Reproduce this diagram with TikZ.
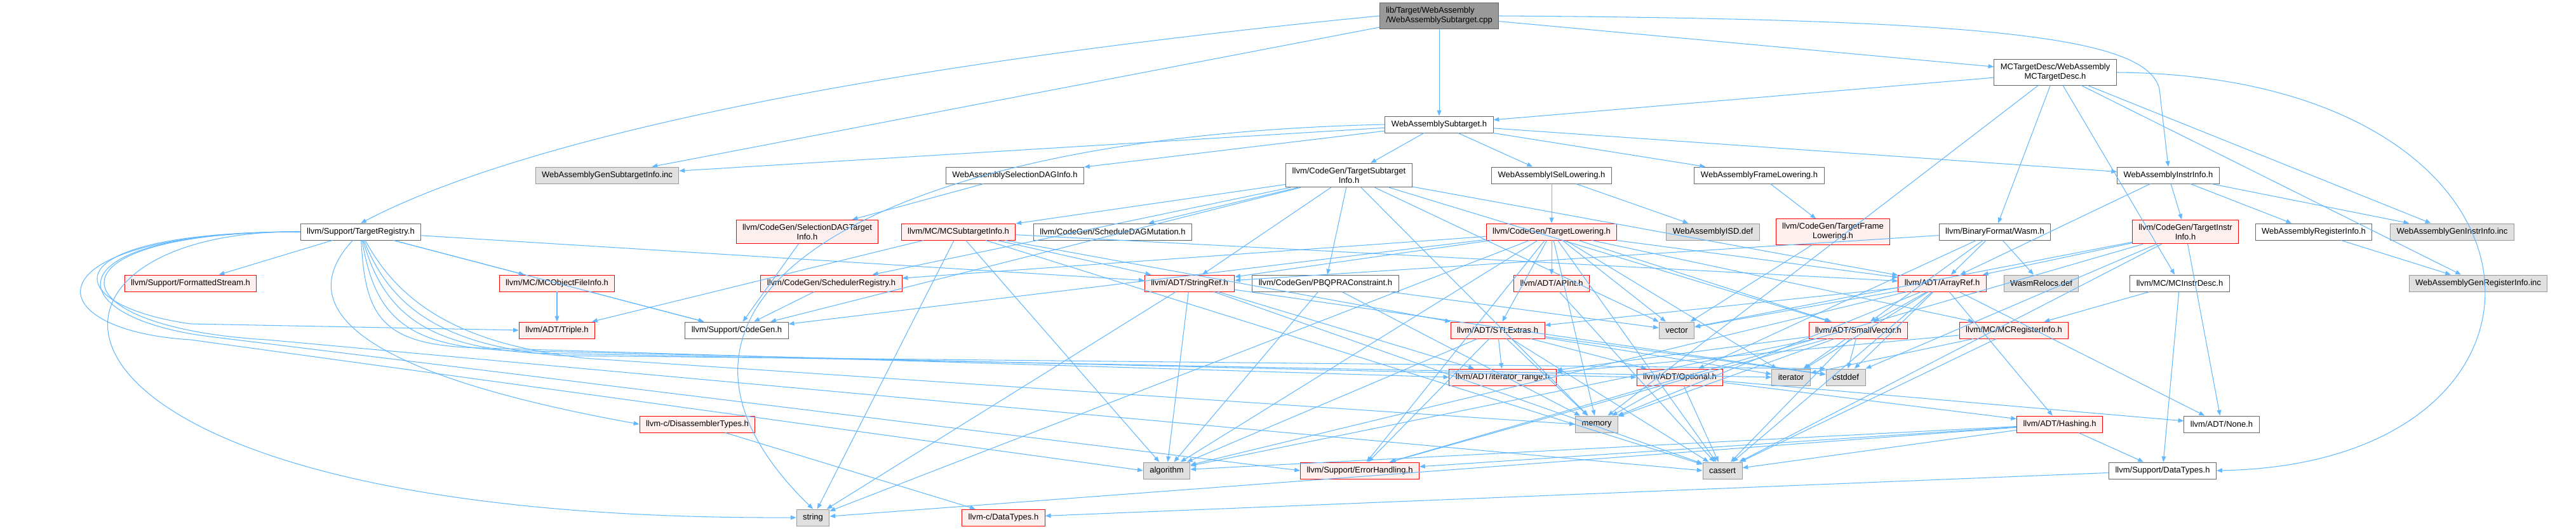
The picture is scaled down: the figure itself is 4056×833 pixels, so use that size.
\documentclass[tikz,border=0pt]{standalone}
\usepackage{fontspec}
\setmainfont{Liberation Sans}
\usetikzlibrary{arrows.meta}
\definecolor{edgeblue}{HTML}{63B8FF}
\definecolor{redfill}{HTML}{FFF0F0}

\begin{document}
\begin{tikzpicture}[x=0.025cm, y=-0.025cm,
		% Define styles for the nodes
		filebox/.style={
			rectangle, draw=black!60, fill=white, line width=0.7pt,
			inner xsep=0.25cm, inner ysep=0.16cm, minimum height=0.65cm,
			align=center, font=\fontsize{9.25}{10.8}\selectfont
		},
		redbox/.style={filebox, draw=red, fill=redfill},
		sysbox/.style={filebox, draw=black!40, fill=black!12},
		rootbox/.style={filebox, fill=black!40, align=left},
		edge/.style={
			-{Triangle[length=0.22cm, width=0.17cm]}, draw=edgeblue, line width=0.75pt
		}
		]
		\useasboundingbox (0,0) rectangle (4056,833);
		
		% Define the top nodes
		\node[rootbox] (cpp) at (2266,25) {lib/Target/WebAssembly\\/WebAssemblySubtarget.cpp};
		\node[filebox] (mctd) at (3236,114) {MCTargetDesc/WebAssembly\\MCTargetDesc.h};
		\node[filebox] (sub) at (2266,196) {WebAssemblySubtarget.h};
		
		\node[sysbox] (gsi) at (956,276) {WebAssemblyGenSubtargetInfo.inc};
		\node[filebox] (sdi) at (1598,276) {WebAssemblySelectionDAGInfo.h};
		\node[filebox] (tsi) at (2124,276) {llvm/CodeGen/TargetSubtarget\\Info.h};
		\node[filebox] (isel) at (2443,276) {WebAssemblyISelLowering.h};
		\node[filebox] (frl) at (2770,276) {WebAssemblyFrameLowering.h};
		\node[filebox] (iinfo) at (3414,276) {WebAssemblyInstrInfo.h};
		
		\node[filebox] (treg) at (568,365) {llvm/Support/TargetRegistry.h};
		\node[redbox] (sdti) at (1271,365) {llvm/CodeGen/SelectionDAGTarget\\Info.h};
		\node[redbox] (mcsti) at (1509,365) {llvm/MC/MCSubtargetInfo.h};
		\node[filebox] (sdm) at (1752,365) {llvm/CodeGen/ScheduleDAGMutation.h};
		\node[redbox] (tlow) at (2443,365) {llvm/CodeGen/TargetLowering.h};
		\node[sysbox] (isd) at (2697,365) {WebAssemblyISD.def};
		\node[redbox] (tfl) at (2886,365) {llvm/CodeGen/TargetFrame\\Lowering.h};
		\node[filebox] (wasm) at (3141,365) {llvm/BinaryFormat/Wasm.h};
		\node[redbox] (tii) at (3441,365) {llvm/CodeGen/TargetInstr\\Info.h};
		\node[filebox] (rinfo) at (3643,365) {WebAssemblyRegisterInfo.h};
		\node[sysbox] (gii) at (3861,365) {WebAssemblyGenInstrInfo.inc};
		
		% Define the headers further down
		\node[redbox] (fstream) at (300,446) {llvm/Support/FormattedStream.h};
		\node[redbox] (mcofi) at (877,446) {llvm/MC/MCObjectFileInfo.h};
		\node[redbox] (sreg) at (1309,446) {llvm/CodeGen/SchedulerRegistry.h};
		\node[redbox] (sref) at (1873,446) {llvm/ADT/StringRef.h};
		\node[filebox] (pbqp) at (2087,446) {llvm/CodeGen/PBQPRAConstraint.h};
		\node[redbox] (apint) at (2443,446) {llvm/ADT/APInt.h};
		\node[redbox] (aref) at (3058,446) {llvm/ADT/ArrayRef.h};
		\node[sysbox] (wreloc) at (3214,446) {WasmRelocs.def};
		\node[filebox] (mcid) at (3432,446) {llvm/MC/MCInstrDesc.h};
		\node[sysbox] (gri) at (3902,446) {WebAssemblyGenRegisterInfo.inc};
		
		\node[redbox] (triple) at (877,520) {llvm/ADT/Triple.h};
		\node[filebox] (cgen) at (1160,520) {llvm/Support/CodeGen.h};
		\node[redbox] (stlx) at (2358,520) {llvm/ADT/STLExtras.h};
		\node[sysbox] (vector) at (2640,520) {vector};
		\node[redbox] (svec) at (2926,520) {llvm/ADT/SmallVector.h};
		\node[redbox] (mcri) at (3171,520) {llvm/MC/MCRegisterInfo.h};
		
		\node[redbox] (itrange) at (2366,594) {llvm/ADT/iterator\_range.h};
		\node[redbox] (optional) at (2645,594) {llvm/ADT/Optional.h};
		\node[sysbox] (iterator) at (2820,594) {iterator};
		\node[sysbox] (cstddef) at (2906,594) {cstddef};
		
		\node[redbox] (disasm) at (1098,668) {llvm-c/DisassemblerTypes.h};
		\node[sysbox] (memory) at (2514,668) {memory};
		\node[redbox] (hashing) at (3243,668) {llvm/ADT/Hashing.h};
		\node[filebox] (none) at (3498,668) {llvm/ADT/None.h};
		
		\node[sysbox] (algorithm) at (1837,741) {algorithm};
		\node[redbox] (errh) at (2141,741) {llvm/Support/ErrorHandling.h};
		\node[sysbox] (cassert) at (2712,741) {cassert};
		\node[filebox] (dtypes) at (3405,741) {llvm/Support/DataTypes.h};
		
		\node[sysbox] (string) at (1280,815) {string};
		\node[redbox] (cdtypes) at (1580,815) {llvm-c/DataTypes.h};
		
		% Draw the include edges
		\foreach \dst in {sub,mctd,gsi}
			\draw[edge] (cpp) -- (\dst);
		\draw[edge] (cpp.west) .. controls (1300,110) and (800,230) .. (treg.north);
		\draw[edge] (cpp.east) .. controls (3150,30) and (3380,60) .. (3400,140) -- (iinfo.north);
		\foreach \dst in {sub,wasm,mcid,memory,gii,gri}
			\draw[edge] (mctd) -- (\dst);
		\draw[edge] (mctd.east) .. controls (4060,120) and (4090,730) .. (dtypes.east);
		\foreach \dst in {tsi,isel,frl,iinfo,sdi,gsi}
			\draw[edge] (sub) -- (\dst);
		\draw[edge] (sub.west) .. controls (1350,215) and (950,480) .. (string.north);
		\foreach \dst in {tlow,isd}
			\draw[edge] (isel) -- (\dst);
		\draw[edge] (frl) -- (tfl);
		\foreach \dst in {tii,rinfo,gii,aref}
			\draw[edge] (iinfo) -- (\dst);
		\draw[edge] (sdi) -- (sdti);
		
		% TargetRegistry.h: straight ones first, then the ones that loop round
		\foreach \dst in {sref,mcofi,cgen,fstream}
			\draw[edge] (treg) -- (\dst);
		\draw[edge] (treg.west) .. controls (-20,360) and (-10,820) .. (string.west);
		\draw[edge] (treg) .. controls (70,365) and (90,480) .. (300,510) -- (triple.west);
		\draw[edge] (treg) .. controls (40,365) and (50,520) .. (300,535) -- (algorithm.west);
		\draw[edge] (treg) .. controls (70,365) and (90,500) .. (330,530) -- (errh.west);
		\draw[edge] (treg) .. controls (60,365) and (80,515) .. (420,535) -- (cassert.west);
		\draw[edge] (treg) .. controls (470,470) and (520,580) .. (disasm.west);
		\draw[edge] (treg) .. controls (575,500) and (600,545) .. (760,548) -- (itrange.west);
		\draw[edge] (treg) .. controls (590,500) and (640,545) .. (800,552) -- (optional.west);
		\draw[edge] (treg) .. controls (605,500) and (680,545) .. (840,556) -- (iterator.west);
		\draw[edge] (treg) .. controls (620,500) and (720,545) .. (880,560) -- (cstddef.north west);
		\draw[edge] (treg) .. controls (640,500) and (760,545) .. (920,564) -- (memory.west);
		
		\draw[edge] (sdti) -- (cgen);
		\foreach \dst in {aref,stlx,sref,triple,algorithm,cassert,string}
			\draw[edge] (mcsti) -- (\dst);
		\foreach \dst in {aref,svec,sref,pbqp,sreg,sdm,mcsti,cgen,memory,vector}
			\draw[edge] (tsi) -- (\dst);
		\foreach \dst in {apint,aref,svec,sref,stlx,mcri,errh,algorithm,cassert,iterator,string,vector,memory,sreg,cgen}
			\draw[edge] (tlow) -- (\dst);
		\draw[edge] (tfl) -- (vector);
		\foreach \dst in {aref,wreloc,sref,optional,svec}
			\draw[edge] (wasm) -- (\dst);
		\foreach \dst in {aref,none,errh,cassert,cstddef,vector}
			\draw[edge] (tii) -- (\dst);
		\draw[edge] (rinfo) -- (gri);
		
		\foreach \dst in {triple,cgen}
			\draw[edge] (mcofi) -- (\dst);
		\draw[edge] (sreg) -- (cgen);
		\foreach \dst in {itrange,algorithm,cassert,cstddef,string}
			\draw[edge] (sref) -- (\dst);
		\foreach \dst in {algorithm,memory,vector}
			\draw[edge] (pbqp) -- (\dst);
		\draw[edge] (apint) -- (cassert);
		\foreach \dst in {hashing,none,stlx,svec,algorithm,cassert,cstddef,iterator,memory,vector}
			\draw[edge] (aref) -- (\dst);
		\foreach \dst in {mcri,dtypes}
			\draw[edge] (mcid) -- (\dst);
		\foreach \dst in {optional,itrange,errh,algorithm,cassert,cstddef,iterator,memory}
			\draw[edge] (stlx) -- (\dst);
		\foreach \dst in {itrange,errh,algorithm,cassert,cstddef,iterator,memory}
			\draw[edge] (svec) -- (\dst);
		\foreach \dst in {itrange,iterator,cassert}
			\draw[edge] (mcri) -- (\dst);
		\foreach \dst in {none,hashing,cassert,memory}
			\draw[edge] (optional) -- (\dst);
		\draw[edge] (disasm) -- (cdtypes);
		\foreach \dst in {dtypes,errh,algorithm,cassert,string}
			\draw[edge] (hashing) -- (\dst);
		\draw[edge] (dtypes) -- (cdtypes);
		
	\end{tikzpicture}
\end{document}
